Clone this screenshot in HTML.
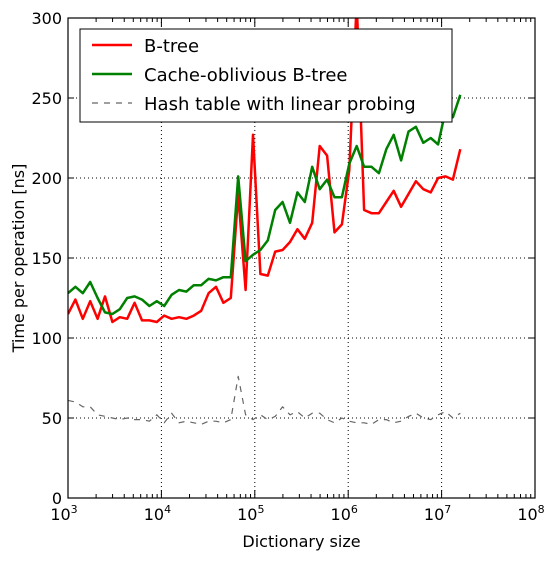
<!DOCTYPE html>
<html><head><meta charset="utf-8"><style>
body{margin:0;background:#fff;}
svg{display:block;font-family:"DejaVu Sans","Liberation Sans",sans-serif;}
</style></head><body>
<svg id="chart" width="559" height="561">
<g id="grid"></g><g id="series"></g><g id="axes"></g><g id="legend"></g>
</svg>
<script>
const btree=[115,124,112,123,112,126,110,113,112,122,111,111,110,114,112,113,112,114,117,128,132,122,125,190,130,227,140,139,154,155,160,168,162,172,220,214,166,171,205,310,180,178,178,185,192,182,190,198,193,191,200,201,199,218];
const coBtree=[128,132,128,135,125,116,115,118,125,126,124,120,123,120,127,130,129,133,133,137,136,138,138,201,148,152,155,161,180,185,172,191,185,207,193,199,188,188,209,220,207,207,203,218,227,211,229,232,222,225,221,242,238,252];
const hashLP=[61,60,57,57,52,51,50,49,50,49,49,48,52,47,53,47,48,47,46,48,48,47,49,76,52,49,52,49,51,57,52,54,50,53,53,49,47,50,48,47,47,46,49,49,47,48,51,53,50,49,52,54,50,53];
const xMinExp=3, xMaxExp=8, lastExp=7.2;
const yTicks=[0,50,100,150,200,250,300];
const xTickExps=[3,4,5,6,7,8];
const L=68,R=535,T=18,B=498;
const NS='http://www.w3.org/2000/svg';
const X=e=>L+(e-xMinExp)/(xMaxExp-xMinExp)*(R-L);
const Y=v=>B-v/300*(B-T);
function mk(p,t,a){const el=document.createElementNS(NS,t);for(const k in a)el.setAttribute(k,a[k]);p.appendChild(el);return el;}
const g=document.getElementById('grid'),s=document.getElementById('series'),ax=document.getElementById('axes'),lg=document.getElementById('legend');
yTicks.forEach(v=>{const l=mk(g,'line',{x1:L,x2:R,y1:Y(v),y2:Y(v),stroke:'#000','stroke-dasharray':'1,3','stroke-width':1});


const t=mk(ax,'text',{x:L-6,y:Y(v)+6,'text-anchor':'end','font-size':16});t.textContent=v;


mk(ax,'line',{x1:L,x2:L+6,y1:Y(v),y2:Y(v),stroke:'#000'});mk(ax,'line',{x1:R,x2:R-6,y1:Y(v),y2:Y(v),stroke:'#000'});});
xTickExps.forEach(e=>{const x=X(e);const l=mk(g,'line',{x1:x,x2:x,y1:T,y2:B,stroke:'#000','stroke-dasharray':'1,3'});


mk(ax,'line',{x1:x,x2:x,y1:B,y2:B-8,stroke:'#000'});mk(ax,'line',{x1:x,x2:x,y1:T,y2:T+8,stroke:'#000'});
const t=mk(ax,'text',{x:x-4,y:B+22,'text-anchor':'middle','font-size':16});t.innerHTML='10<tspan dy="-7" font-size="11">'+e+'</tspan>';


if(e<xMaxExp)for(let k=2;k<10;k++){const xm=X(e+Math.log10(k));mk(ax,'line',{x1:xm,x2:xm,y1:B,y2:B-4,stroke:'#000'});mk(ax,'line',{x1:xm,x2:xm,y1:T,y2:T+4,stroke:'#000'});}});
function series(arr,color,w,dash,name){const step=(lastExp-xMinExp)/(arr.length-1);
const pts=arr.map((v,i)=>X(xMinExp+i*step).toFixed(1)+','+Y(Math.min(v,320)).toFixed(1)).join(' ');
const p=mk(s,'polyline',{points:pts,fill:'none',stroke:color,'stroke-width':w,'stroke-dasharray':dash,'stroke-linejoin':'round'});

}
const clip=mk(document.getElementById('chart'),'clipPath',{id:'pc'});mk(clip,'rect',{x:L,y:T,width:R-L,height:B-T});
s.setAttribute('clip-path','url(#pc)');
series(hashLP,'#666',1.2,'6,6','hash-table-line');
series(btree,'#ff0000',2.5,'none','btree-line');
series(coBtree,'#008000',2.5,'none','cache-oblivious-line');
mk(ax,'rect',{x:L,y:T,width:R-L,height:B-T,fill:'none',stroke:'#000','stroke-width':1.2});
let t=mk(ax,'text',{x:(L+R)/2,y:547,'text-anchor':'middle','font-size':16});t.textContent='Dictionary size';


t=mk(ax,'text',{x:24,y:258,'text-anchor':'middle','font-size':16,transform:'rotate(-90 24 258)'});t.textContent='Time per operation [ns]';


const box=mk(lg,'rect',{x:80,y:29,width:372,height:93,fill:'#fff',stroke:'#000'});


[['B-tree','#ff0000','none',2.5,45],['Cache-oblivious B-tree','#008000','none',2.5,74],['Hash table with linear probing','#666','6,6',1.2,103]].forEach(([n,c,d,w,y])=>{
const ln=mk(lg,'line',{x1:92,x2:132,y1:y,y2:y,stroke:c,'stroke-width':w,'stroke-dasharray':d});


const tt=mk(lg,'text',{x:144,y:y+7,'font-size':18});tt.textContent=n;

});
</script>
</body></html>
